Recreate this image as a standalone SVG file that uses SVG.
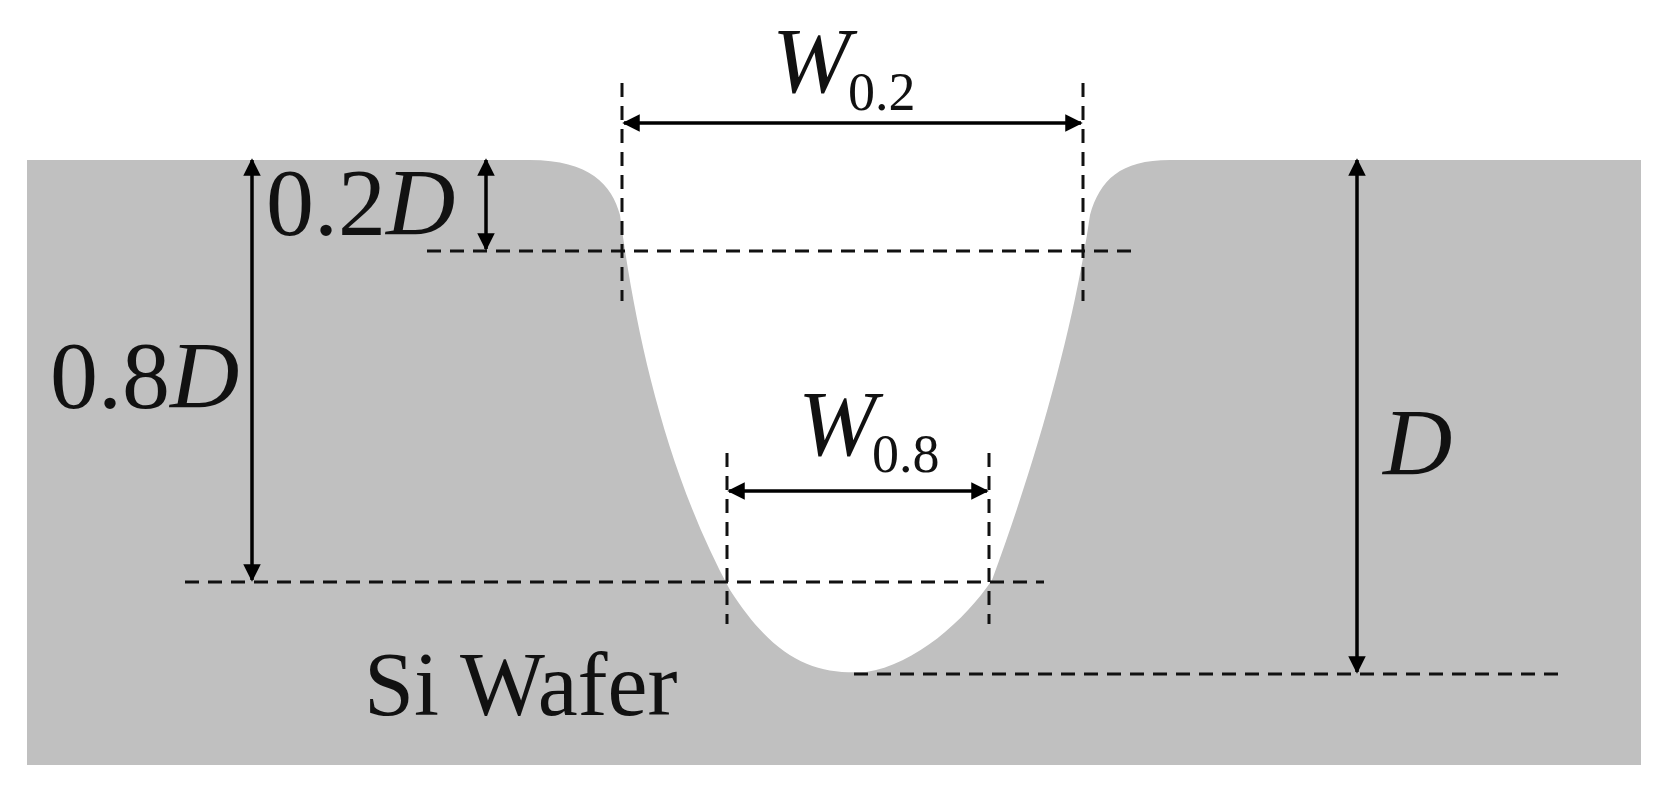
<svg xmlns="http://www.w3.org/2000/svg" width="1665" height="789" viewBox="0 0 1665 789">
<style>
.d{stroke:#111;stroke-width:3;stroke-dasharray:14 9;fill:none}
.a{stroke:#000;stroke-width:3.5;fill:none}
text{font-family:"Liberation Serif",serif;fill:#111}
.i{font-style:italic}
</style>
<defs>
<marker id="ah" viewBox="0 0 10 10" refX="9" refY="5" markerWidth="5" markerHeight="5" orient="auto-start-reverse"><path d="M0,0 L10,5 L0,10 z" fill="#000"/></marker>
</defs>
<rect width="1665" height="789" fill="#fff"/>
<g id="wafer">
<rect x="27" y="160" width="1614" height="605" fill="#c0c0c0"/>
<path d="M530,160 C590,160 612,185 620,215 C635,330 665,470 730,590 C775,660 815,675 866,672 C915,665 965,620 992,580 C1040,450 1075,320 1090,215 C1100,180 1120,160 1170,160 Z" fill="#fff"/>
</g>
<g id="connectors">
<line class="d" x1="622" y1="83" x2="622" y2="301"/>
<line class="d" x1="1083" y1="83" x2="1083" y2="301"/>
<line class="d" x1="427" y1="251" x2="1131" y2="251"/>
<line class="d" x1="727" y1="453" x2="727" y2="624"/>
<line class="d" x1="989" y1="453" x2="989" y2="624"/>
<line class="d" x1="185" y1="582" x2="1044" y2="582"/>
<line class="d" x1="854" y1="674" x2="1558" y2="674"/>
<line class="a" x1="624" y1="123" x2="1081" y2="123" marker-start="url(#ah)" marker-end="url(#ah)"/>
<line class="a" x1="729" y1="491" x2="987" y2="491" marker-start="url(#ah)" marker-end="url(#ah)"/>
<line class="a" x1="252" y1="160" x2="252" y2="580" marker-start="url(#ah)" marker-end="url(#ah)"/>
<line class="a" x1="486" y1="160" x2="486" y2="249" marker-start="url(#ah)" marker-end="url(#ah)"/>
<line class="a" x1="1357" y1="160" x2="1357" y2="672" marker-start="url(#ah)" marker-end="url(#ah)"/>
</g>
<g id="labels">
<text x="772" y="92" font-size="94" class="i">W</text><text x="848" y="110" font-size="54">0.2</text>
<text x="798" y="455" font-size="94" class="i">W</text><text x="872" y="472" font-size="54">0.8</text>
<text x="266" y="235" font-size="96">0.2<tspan class="i">D</tspan></text>
<text x="50" y="408" font-size="96">0.8<tspan class="i">D</tspan></text>
<text x="1383" y="475" font-size="96" class="i">D</text>
<text x="364" y="715" font-size="90">Si Wafer</text>
</g>
</svg>
